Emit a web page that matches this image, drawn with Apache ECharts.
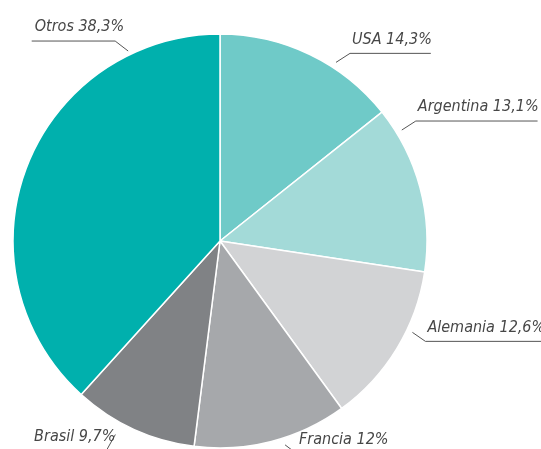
<!DOCTYPE html>
<html lang="es">

<head>
    <meta charset="UTF-8">
    <title>Pie</title>
    <script src="https://cdn.jsdelivr.net/npm/echarts@6/dist/echarts.min.js"></script>
    <style>
        html, body { margin: 0; padding: 0; background: #fff; }
        #chart { width: 541px; height: 449px; }
    </style>
</head>

<body>
    <div id="chart"></div>

    <script>
        // datos
        var paises = ['USA', 'Argentina', 'Alemania', 'Francia', 'Brasil', 'Otros'];
        var porcentajes = [14.3, 13.1, 12.6, 12, 9.7, 38.3];
        var colores = ['#6fcac8', '#a3dad8', '#d2d3d5', '#a6a8ab', '#808285', '#00b0ad'];

        // geometria de la torta
        var cx = 220, cy = 241, R = 207;
        var fuente = '"DejaVu Sans Condensed", sans-serif';
        var tamFuente = 16;

        // donde arranca cada linea guia (angulo en grados, distancia al centro) y su tramo diagonal
        var guias = [
            { ang: 57, r: 213, dx: 14, dy: -9 },
            { ang: 31.4, r: 213, dx: 14, dy: -9 },
            { ang: -25.4, r: 213, dx: 13, dy: 9 },
            { ang: -72.3, r: 214, dx: 12, dy: 9 },
            { ang: -118.4, r: 220, dx: -9, dy: 16 },
            { ang: 115.8, r: 211, dx: -13, dy: -10 }
        ];

        function textoEtiqueta(nombre, valor) {
            return nombre + ' ' + String(valor).replace('.', ',') + '%';
        }

        // medir ancho del texto
        var ctx = document.createElement('canvas').getContext('2d');
        ctx.font = 'italic ' + tamFuente + 'px ' + fuente;

        var myChart = echarts.init(document.getElementById('chart'));

        var datos = paises.map(function (p, i) {
            return { name: p, value: porcentajes[i], itemStyle: { color: colores[i] } };
        });

        var option = {
            animation: false,
            series: [{
                type: 'pie',
                center: [cx, cy],
                radius: R,
                startAngle: 90,
                clockwise: true,
                data: datos,
                itemStyle: { borderColor: '#fff', borderWidth: 1.5 },
                label: {
                    position: 'outside',
                    alignTo: 'none',
                    formatter: function (p) {
                        return textoEtiqueta(p.name, p.value);
                    },
                    fontFamily: fuente,
                    fontStyle: 'italic',
                    fontSize: tamFuente,
                    lineHeight: 18,
                    color: '#474747',
                    overflow: 'none'
                },
                labelLine: {
                    length: 10,
                    length2: 10,
                    lineStyle: { color: '#555', width: 1 }
                },
                labelLayout: function (params) {
                    var g = guias[params.dataIndex];
                    var a = g.ang * Math.PI / 180;
                    var x1 = cx + g.r * Math.cos(a);
                    var y1 = cy - g.r * Math.sin(a);
                    var x2 = x1 + g.dx;
                    var y2 = y1 + g.dy;
                    var w = ctx.measureText(params.text).width;
                    var derecha = g.dx > 0;
                    var x3 = derecha ? x2 + w + 1 : x2 - w + 6;
                    return {
                        x: derecha ? x2 + 2 : x2 + 9,
                        y: y2 - 14,
                        align: derecha ? 'left' : 'right',
                        verticalAlign: 'middle',
                        width: w + 12,
                        labelLinePoints: [[x1, y1], [x2, y2], [x3, y2]]
                    };
                }
            }]
        };

        myChart.setOption(option);
    </script>
</body>

</html>
